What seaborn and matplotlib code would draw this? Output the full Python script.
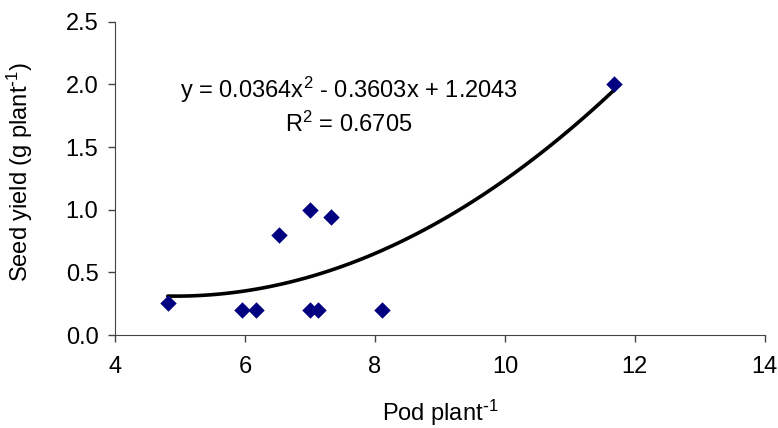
import matplotlib
matplotlib.use("Agg")
import matplotlib.pyplot as plt
import seaborn as sns
import pandas as pd

# values
pods = [4.81, 5.95, 6.17, 6.52, 7.00, 7.33, 7.00, 7.13, 8.11, 11.68]
seed_yield = [0.26, 0.20, 0.20, 0.80, 1.00, 0.94, 0.20, 0.20, 0.20, 2.00]
equation = r"y = 0.0364x$^2$ - 0.3603x + 1.2043"
r_squared = r"R$^2$ = 0.6705"

df = pd.DataFrame({"pods": pods, "seed": seed_yield})

sns.set_style("ticks", {"text.color": "black", "axes.labelcolor": "black",
                        "xtick.color": "black", "ytick.color": "black"})
plt.rcParams["font.family"] = ["Liberation Sans", "DejaVu Sans"]
plt.rcParams["mathtext.default"] = "regular"

fig = plt.figure(figsize=(7.78, 4.28), dpi=100)
ax = fig.add_axes([0.148, 0.217, 0.835, 0.732])

# 2nd order polynomial trendline
sns.regplot(x="pods", y="seed", data=df, order=2, ci=None, scatter=False,
            truncate=True, line_kws={"color": "black", "lw": 2.6}, ax=ax)
sns.scatterplot(x="pods", y="seed", data=df, marker="D", s=70,
                color="#000080", edgecolor="#000080", linewidth=0, ax=ax, zorder=3)

fs = 17
ax.set_xlim(4, 14)
ax.set_ylim(0, 2.5)
ax.set_xticks([4, 6, 8, 10, 12, 14])
ax.set_yticks([0, 0.5, 1.0, 1.5, 2.0, 2.5])
ax.set_yticklabels(["0.0", "0.5", "1.0", "1.5", "2.0", "2.5"])
ax.tick_params(labelsize=fs, direction="out", length=5, color="#444444",
               labelcolor="black", width=1)
ax.tick_params(axis="y", pad=7)
ax.tick_params(axis="x", pad=10)
for s in ["left", "bottom"]:
    ax.spines[s].set_color("#444444")
sns.despine(ax=ax)

ax.set_xlabel(r"Pod plant$^{\text{-}1}$", fontsize=fs, va="top", color="black")
ax.set_ylabel(r"Seed yield (g plant$^{\text{-}1}$)", fontsize=fs, color="black")
ax.xaxis.set_label_coords(0.5, -0.2)
ax.yaxis.set_label_coords(-0.123, 0.522)

ax.text(7.6, 1.893, equation, ha="center", va="baseline", fontsize=fs, color="black")
ax.text(7.6, 1.621, r_squared, ha="center", va="baseline", fontsize=fs, color="black")

fig.savefig("out.png", dpi=100)
